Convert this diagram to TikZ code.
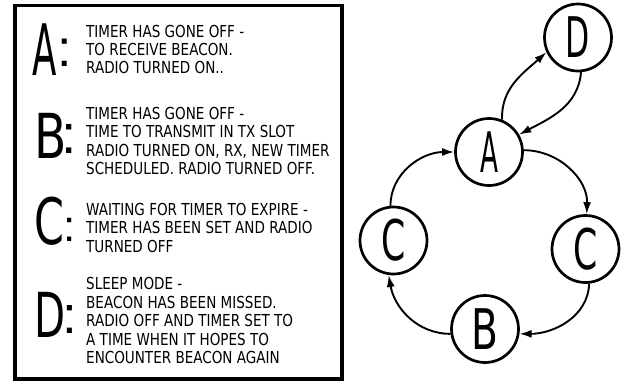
\documentclass[tikz,border=0pt]{standalone}
\usepackage{fontspec}
\usepackage{graphicx}
\usetikzlibrary{arrows.meta}
\setmainfont{DejaVu Sans}
\newfontfamily\txtfont{DejaVu Sans}[FakeStretch=0.82]
\newfontfamily\bigfont{DejaVu Sans}
\newfontfamily\colfont{Liberation Sans}
\tikzset{
  legtext/.style={anchor=north west, inner sep=0pt, align=left},
  legline/.style={anchor=base west, inner sep=0pt, font=\txtfont\fontsize{16.5}{18.4}\selectfont},
  bigletter/.style={anchor=base, inner sep=0pt},
  colonmark/.style={anchor=center, inner sep=0pt},
  state/.style={draw, circle, line width=2.7pt, minimum size=67pt, inner sep=0pt,
    font=\bigfont\fontsize{56}{56}\selectfont},
  arr/.style={line width=1.9pt, -{Latex[length=12pt,width=8pt]}},
}
\begin{document}
\begin{tikzpicture}[x=1pt,y=-1pt]
\path[use as bounding box] (0,0) rectangle (626,384);
\draw[line width=3.6pt] (14.7,5.3) rectangle (342,379);

% legend
\node[bigletter, font=\bigfont\fontsize{71}{71}\selectfont] (LA) at (45,75) {\scalebox{0.5}[1]{A}};
\node[colonmark, font=\colfont\fontsize{52}{52}\selectfont] (CA) at (65,52.5) {:};
\node[legline] (TA1) at (86,37.5) {TIMER HAS GONE OFF -};
\node[legline] (TA2) at (86,55.5) {TO RECEIVE BEACON.};
\node[legline] (TA3) at (86,73.5) {RADIO TURNED ON..};

\node[bigletter, font=\bigfont\fontsize{62}{62}\selectfont] (LB) at (50.5,158) {\scalebox{0.76}[1]{B}};
\node[colonmark, font=\colfont\fontsize{55}{55}\selectfont] (CB) at (69,138.5) {:};
\node[legtext, font=\txtfont\fontsize{16.5}{18.4}\selectfont] (TB) at (86,107) {TIMER HAS GONE OFF -\\TIME TO TRANSMIT IN TX SLOT\\RADIO TURNED ON, RX, NEW TIMER\\SCHEDULED. RADIO TURNED OFF.};

\node[bigletter, font=\bigfont\fontsize{64}{64}\selectfont] (LC) at (49.5,244.5) {\scalebox{0.67}[1]{C}};
\node[colonmark, font=\colfont\fontsize{44}{44}\selectfont] (CC) at (70,230) {:};
\node[legtext, font=\txtfont\fontsize{16.5}{18.5}\selectfont] (TC) at (86,203) {WAITING FOR TIMER TO EXPIRE -\\TIMER HAS BEEN SET AND RADIO\\TURNED OFF};

\node[bigletter, font=\bigfont\fontsize{62}{62}\selectfont] (LD) at (50,337) {\scalebox{0.65}[1]{D}};
\node[colonmark, font=\colfont\fontsize{53}{53}\selectfont] (CD) at (70,319) {:};
\node[legtext, font=\txtfont\fontsize{16.5}{18.5}\selectfont] (TD) at (86,277.5) {SLEEP MODE -\\BEACON HAS BEEN MISSED.\\RADIO OFF AND TIMER SET TO\\A TIME WHEN IT HOPES TO\\ENCOUNTER BEACON AGAIN};

% state graph
\node[state] (A) at (489,152) {\scalebox{0.47}[1]{A}};
\node[state] (D) at (578,37.5) {\scalebox{0.56}[1]{D}};
\node[state] (Cl) at (393.5,240.5) {\scalebox{0.62}[1]{C}};
\node[state] (Cr) at (585.5,249) {\scalebox{0.62}[1]{C}};
\node[state] (B) at (485,329) {\scalebox{0.7}[1]{B}};

\draw[arr] (A.68) to[out=92, in=222] (D.205);
\draw[arr] (D.-85) to[out=-95, in=28] (A.30);
\draw[arr] (Cl.95) to[out=90, in=180] (A.180);
\draw[arr] (A.3) to[out=0, in=88] (Cr.88);
\draw[arr] (Cr.-84) to[out=-92, in=0] (B.-8);
\draw[arr] (B.188) to[out=180, in=-80] (Cl.-98);
\end{tikzpicture}
\end{document}
